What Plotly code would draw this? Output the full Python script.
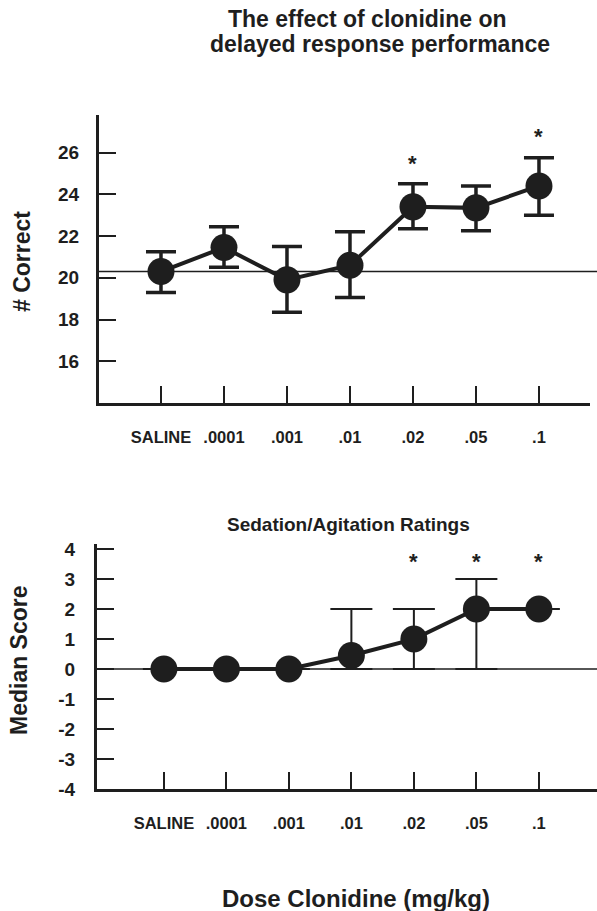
import plotly.graph_objects as go

# ---- data ----
doses = ["SALINE", ".0001", ".001", ".01", ".02", ".05", ".1"]

correct_mean = [20.3, 21.45, 19.9, 20.6, 23.4, 23.35, 24.4]
correct_err_up = [0.95, 1.0, 1.6, 1.6, 1.1, 1.05, 1.35]
correct_err_down = [1.0, 0.95, 1.55, 1.55, 1.05, 1.1, 1.4]
correct_sig = [False, False, False, False, True, False, True]
correct_ref = 20.3

score_median = [0, 0, 0, 0.45, 1, 2, 2]
score_err_up = [0, 0, 0, 1.55, 1, 1, 0]
score_err_down = [0, 0, 0, 0.45, 1, 2, 0]
score_sig = [False, False, False, False, True, True, True]

y1_ticks = [16, 18, 20, 22, 24, 26]
y1_labels = ["16", "18", "20", "22", "24", "26"]
y2_ticks = [-4, -3, -2, -1, 0, 1, 2, 3, 4]
y2_labels = ["-4", "-3", "-2", "-1", "0", "1", "2", "3", "4"]

INK = "#1e1e1e"
W, H = 597, 911
xi = list(range(len(doses)))

fig = go.Figure()

fig.add_trace(go.Scatter(
    x=xi, y=correct_mean, mode="lines+markers", xaxis="x", yaxis="y",
    line=dict(color=INK, width=4),
    marker=dict(size=27, color=INK),
    error_y=dict(type="data", symmetric=False, array=correct_err_up,
                 arrayminus=correct_err_down, color=INK, thickness=3.5, width=15),
    showlegend=False, hoverinfo="skip"))

fig.add_trace(go.Scatter(
    x=xi, y=score_median, mode="lines+markers", xaxis="x2", yaxis="y2",
    line=dict(color=INK, width=4),
    marker=dict(size=27, color=INK),
    error_y=dict(type="data", symmetric=False, array=score_err_up,
                 arrayminus=score_err_down, color=INK, thickness=2, width=21),
    showlegend=False, hoverinfo="skip"))

bold = dict(family="Liberation Sans", color=INK, weight="bold")


def px_x(p):
    return p / W


def px_y(p):
    return 1 - p / H


common_y = dict(showline=True, linewidth=3, linecolor=INK, ticks="inside",
                ticklen=17, tickwidth=2, tickcolor=INK, showgrid=False,
                zeroline=False, tickfont=dict(size=19, **bold))
common_x = dict(showline=True, linewidth=3, linecolor=INK, ticks="inside",
                ticklen=17, tickwidth=2, tickcolor=INK, showgrid=False,
                zeroline=False, tickfont=dict(size=16.5, **bold),
                tickvals=xi, ticktext=doses, ticklabelstandoff=17)

fig.update_layout(
    width=W, height=H, margin=dict(l=0, r=0, t=0, b=0, autoexpand=False),
    paper_bgcolor="white", plot_bgcolor="white",
    xaxis=dict(domain=[px_x(99), px_x(590)], range=[-0.984, 6.81],
               anchor="y", **common_x),
    yaxis=dict(domain=[px_y(403), px_y(115)], range=[14, 27.8],
               tickvals=y1_ticks, ticktext=y1_labels, anchor="x",
               ticklabelstandoff=13, **common_y),
    xaxis2=dict(domain=[px_x(97), 1.0], range=[-1.07, 6.93],
                anchor="y2", **common_x),
    yaxis2=dict(domain=[px_y(789), px_y(544)], range=[-4, 4.17],
                tickvals=y2_ticks, ticktext=y2_labels, anchor="x2",
                ticklabelstandoff=15, **common_y),
)

# reference lines
fig.add_shape(type="line", xref="paper", yref="y", x0=px_x(99), x1=1.0,
              y0=correct_ref, y1=correct_ref, line=dict(color=INK, width=1.5), layer="below")
fig.add_shape(type="line", xref="paper", yref="y2", x0=px_x(97), x1=1.0,
              y0=0, y1=0, line=dict(color=INK, width=1.5), layer="below")

# significance asterisks
for i, s in enumerate(correct_sig):
    if s:
        fig.add_annotation(x=i, y=correct_mean[i] + correct_err_up[i] + 1.0,
                           xref="x", yref="y", text="*", showarrow=False,
                           xanchor="center", yanchor="middle",
                           font=dict(size=22, **bold))
for i, s in enumerate(score_sig):
    if s:
        fig.add_annotation(x=i, y=3.6, xref="x2", yref="y2", text="*",
                           xanchor="center", yanchor="middle",
                           showarrow=False, font=dict(size=22, **bold))


def label(text, x, y, size, angle=0):
    fig.add_annotation(x=px_x(x), y=px_y(y), xref="paper", yref="paper",
                       text=text, showarrow=False, textangle=angle,
                       xanchor="center", yanchor="middle",
                       font=dict(size=size, **bold))


label("The effect of clonidine on", 367, 19, 23)
label("delayed response performance", 380, 44, 23)
label("Sedation/Agitation Ratings", 348, 524, 19)
label("Dose Clonidine (mg/kg)", 356, 898, 24)
label("# Correct", 22, 262, 23, -90)
label("Median Score", 19, 660, 23, -90)

fig.write_html("out.html", config={"displayModeBar": False},
               post_script="document.body.style.margin='0';")
